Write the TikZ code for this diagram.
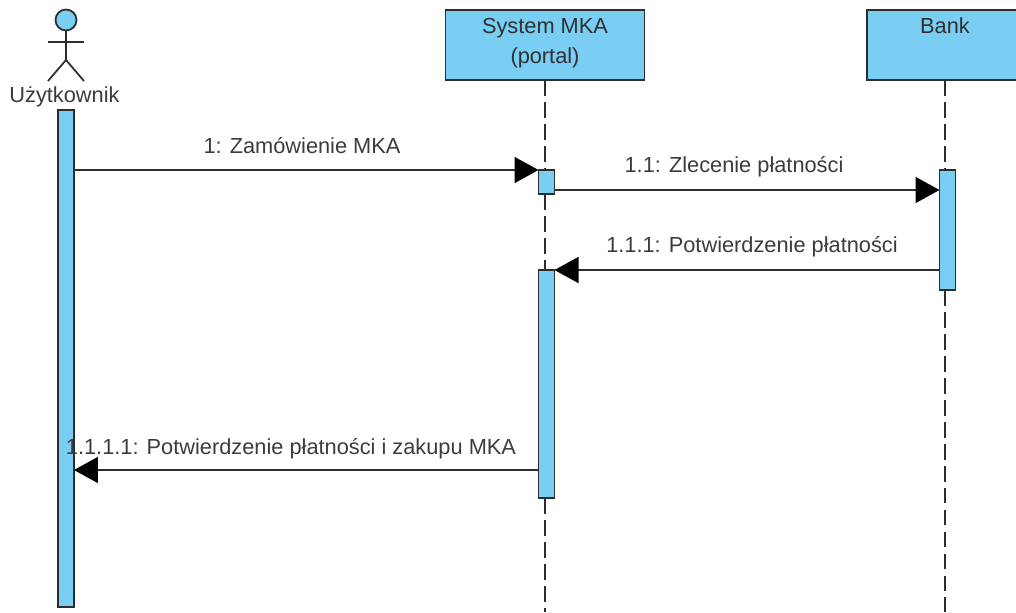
\documentclass[tikz,border=0pt]{standalone}
\usepackage{fontspec}
\setmainfont{Liberation Sans}
\usetikzlibrary{arrows.meta}
\definecolor{umlblue}{RGB}{122,206,244}
\definecolor{umlline}{RGB}{45,45,45}
\definecolor{umltext}{RGB}{60,60,60}
\tikzset{
	lbl/.style={text=umltext,inner sep=0pt,font=\fontsize{12.4}{17}\selectfont},
	head/.style={draw=umlline,fill=umlblue,line width=1pt,minimum height=1.4cm,inner sep=0pt,align=center,outer sep=0pt,text depth=0.18cm,font=\fontsize{12.4}{17}\selectfont,text=umltext!80!black},
	bar/.style={draw=umlline,fill=umlblue,line width=1pt,minimum width=0.32cm,inner sep=0pt,outer sep=0pt},
	life/.style={draw=umlline,line width=1pt,dash pattern=on 9pt off 3.5pt},
	msg/.style={draw=umlline,line width=1pt,-{Triangle[length=0.48cm,width=0.52cm,color=black]}},
	stick/.style={draw=umlline,line width=1pt}
}
\begin{document}
\begin{tikzpicture}[x=0.02cm,y=-0.02cm]
\useasboundingbox (0,0) rectangle (1016,612);
\clip (0,0) rectangle (1016,612);
\path (66,20) node [circle,draw=umlline,fill=umlblue,line width=1pt,minimum size=0.42cm,inner sep=0pt,outer sep=0pt] (actor) {}
		(64.5,97) node [lbl] (userlbl) {Użytkownik}
		(66,358.5) node [bar,minimum height=9.94cm] (userbar) {}
		(545,45) node [head,minimum width=3.98cm] (sys) {System MKA\\(portal)}
		(945,45) node [head,minimum width=3.12cm] (bank) {Bank\\~}
		(546.5,182) node [bar,minimum height=0.48cm] (sysa) {}
		(546.5,384) node [bar,minimum height=4.56cm] (sysb) {}
		(947.5,230) node [bar,minimum height=2.4cm] (bankbar) {}
		(302,146) node [lbl] (m1) {1: Zamówienie MKA}
		(734,167) node [lbl] (m2) {1.1: Zlecenie płatności}
		(752,247) node [lbl] (m3) {1.1.1: Potwierdzenie płatności}
		(291,449) node [lbl] (m4) {1.1.1.1: Potwierdzenie płatności i zakupu MKA}
					;
\path (48,42) coordinate (larm)
		(84,42) coordinate (rarm)
		(66,60) coordinate (hip)
		(48,81) coordinate (lleg)
		(84,81) coordinate (rleg)
		(545,612) coordinate (sysend)
		(945,612) coordinate (bankend)
		(74,170) coordinate (m1a)
		(555,190) coordinate (m2a)
		(939.5,190) coordinate (m2b)
		(74,470) coordinate (m4b)
		(538.5,470) coordinate (m4a)
					;
% actor
\draw [stick] (node cs:name=actor,anchor=south) -- (hip);
\draw [stick] (larm) -- (rarm);
\draw [stick] (lleg) -- (hip) -- (rleg);
% lifelines
\draw [life] (sys.south) -- (sys.south |- sysa.north);
\draw [life] (sys.south |- sysa.south) -- (sys.south |- sysb.north);
\draw [life] (sys.south |- sysb.south) -- (sysend);
\draw [life] (bank.south) -- (bank.south |- bankbar.north);
\draw [life] (bank.south |- bankbar.south) -- (bankend);
% messages
\draw [msg] (m1a) -- (node cs:name=sysa,anchor=north west);
\draw [msg] (m2a) -- (m2b);
\draw [msg] (bankbar.west |- sysb.north) -- (node cs:name=sysb,anchor=north east);
\draw [msg] (m4a) -- (m4b);
\end{tikzpicture}
\end{document}
